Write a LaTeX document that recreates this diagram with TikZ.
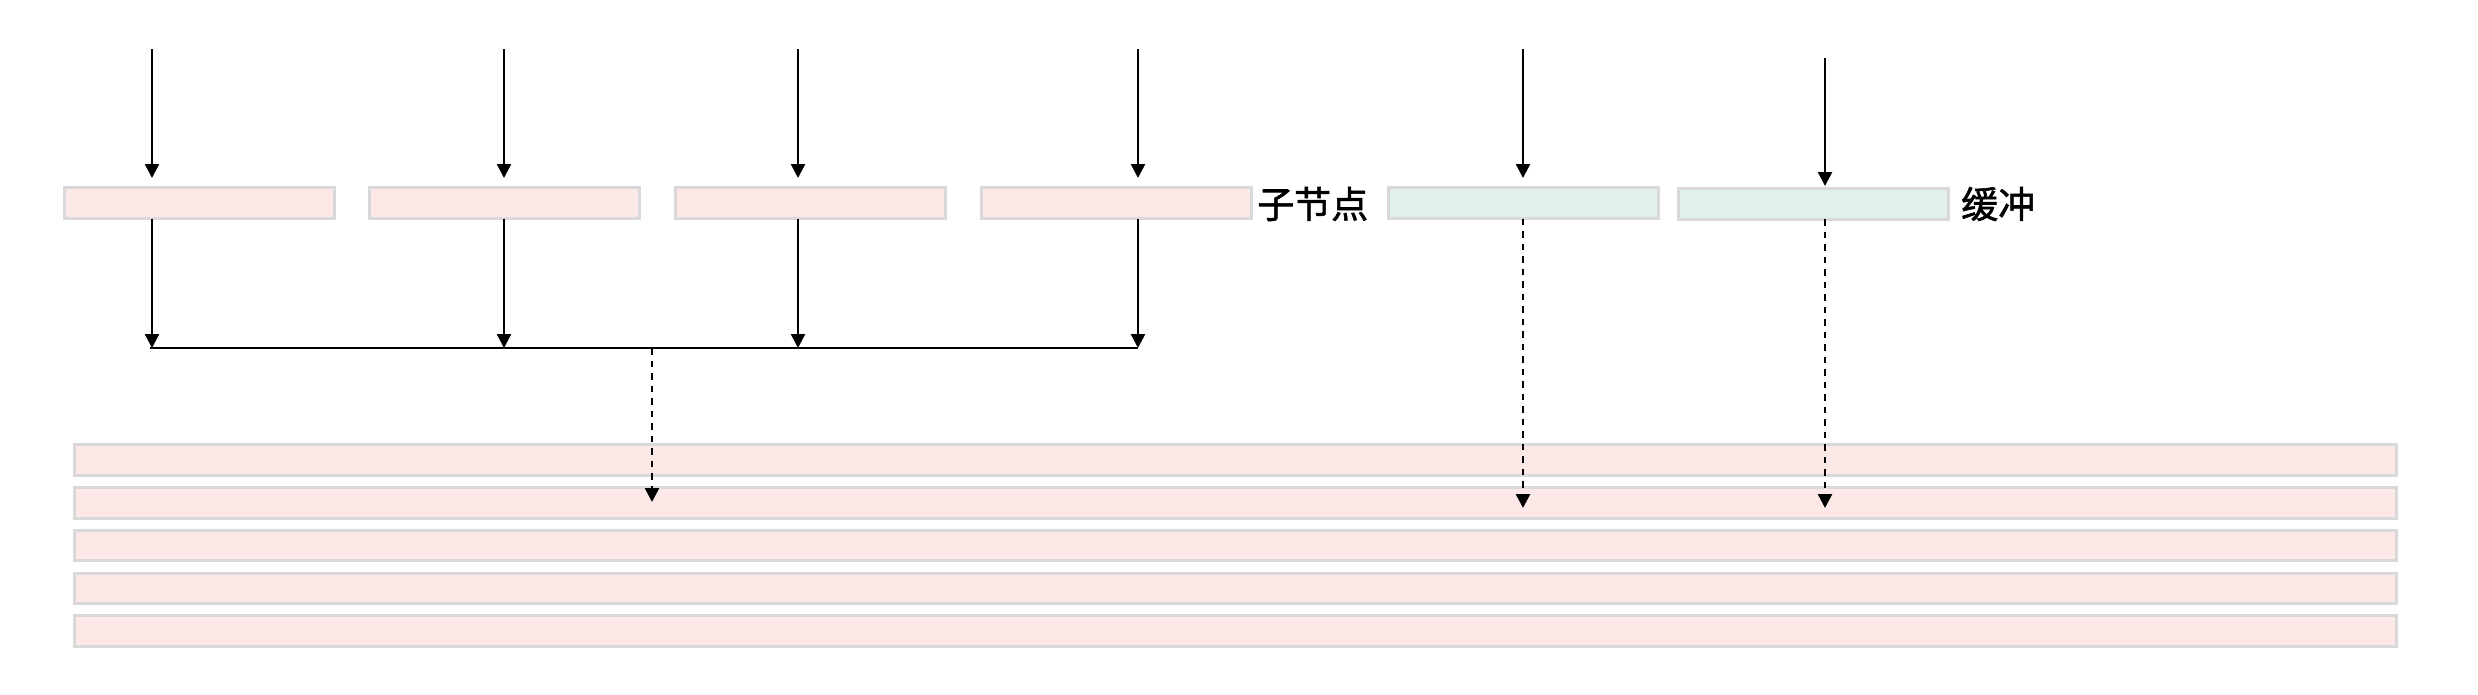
\documentclass[tikz,border=0pt]{standalone}
\usepackage{fontspec}
\newfontfamily\cjk[FakeBold=1.5]{Noto Sans CJK SC}
\usetikzlibrary{arrows.meta}
\definecolor{pinkfill}{HTML}{FCE9E7}
\definecolor{greenfill}{HTML}{E0F0EB}
\definecolor{boxline}{HTML}{D9D9D9}
\tikzset{
  cell/.style={draw=boxline, line width=3pt, fill=pinkfill, minimum width=270pt, minimum height=31pt, inner sep=0pt, outer sep=0pt},
  gcell/.style={cell, fill=greenfill},
  rowbox/.style={cell, minimum width=2322pt, minimum height=30.5pt},
  arr/.style={line width=2.5pt, -{Triangle[width=14pt,length=14pt]}},
  darr/.style={arr, dash pattern=on 6.5pt off 6pt},
  plain/.style={line width=2.5pt},
  lbl/.style={font=\cjk\fontsize{37}{40}\selectfont, inner sep=0pt, anchor=west}
}
\begin{document}
\begin{tikzpicture}[x=1pt,y=-1pt]
\useasboundingbox (0,0) rectangle (2478,694);
% top row boxes
\node[cell] (b1) at (199,203) {};
\node[cell] (b2) at (504,203) {};
\node[cell] (b3) at (810,203) {};
\node[cell] (b4) at (1116,203) {};
\node[lbl] (l1) at (1257,204) {子节点};
\node[gcell] (g1) at (1523,203) {};
\node[gcell] (g2) at (1813.5,203.5) {};
\node[lbl] (l2) at (1961,204) {缓冲};
% bottom rows
\node[rowbox] (r1) at (1235.5,460) {};
\node[rowbox] (r2) at (1235.5,502.75) {};
\node[rowbox] (r3) at (1235.5,545.5) {};
\node[rowbox] (r4) at (1235.5,588.25) {};
\node[rowbox] (r5) at (1235.5,631) {};
% top arrow coordinates
\coordinate (t1) at (152,49);   \coordinate (e1) at (152,178);
\coordinate (t2) at (504,49);   \coordinate (e2) at (504,178);
\coordinate (t3) at (798,49);   \coordinate (e3) at (798,178);
\coordinate (t4) at (1138,49);  \coordinate (e4) at (1138,178);
\coordinate (t5) at (1523,49);  \coordinate (e5) at (1523,178);
\coordinate (t6) at (1825,58);  \coordinate (e6) at (1825,186);
\foreach \i in {1,...,6} { \draw[arr] (t\i) -- (e\i); }
% merge line
\coordinate (h1) at (150,348);
\coordinate (h2) at (1138,348);
\draw[plain] (h1) -- (h2);
\draw[arr] (b1.south -| t1) -- (h1 -| t1);
\draw[arr] (b2.south -| t2) -- (h1 -| t2);
\draw[arr] (b3.south -| t3) -- (h1 -| t3);
\draw[arr] (b4.south -| t4) -- (h1 -| t4);
% dashed arrows
\coordinate (m) at (652,348);
\coordinate (d1) at (652,502);
\coordinate (d2) at (1523,508);
\coordinate (d3) at (1825,508);
\draw[darr] (m) -- (d1);
\draw[darr] (g1.south -| t5) -- (d2);
\draw[darr] (g2.south -| t6) -- (d3);
\end{tikzpicture}
\end{document}
